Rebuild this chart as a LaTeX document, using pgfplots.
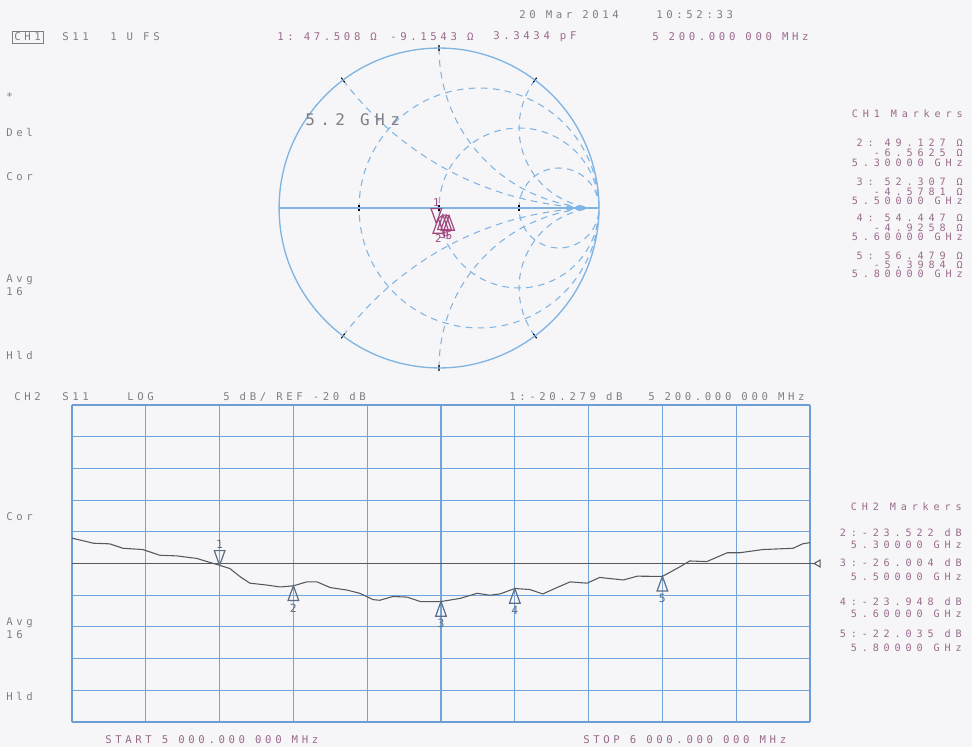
\documentclass[border=0pt]{standalone}
\usepackage{fontspec}
\setmonofont[LetterSpace=34]{DejaVu Sans Mono}
\usepackage{pgfplots}
\pgfplotsset{compat=1.18}
\usepgfplotslibrary{smithchart}

\definecolor{gridblue}{HTML}{72A6DA}
\definecolor{boxblue}{HTML}{6A9ED4}
\definecolor{smithblue}{HTML}{80B4E2}
\definecolor{tracegray}{HTML}{55585E}
\definecolor{refgray}{HTML}{5A5A5A}
\definecolor{mkgray}{HTML}{5E6E86}
\definecolor{smithmk}{HTML}{A0457E}
\definecolor{txtgray}{HTML}{7E7E86}
\definecolor{txtpink}{HTML}{9A6A8C}
\definecolor{paper}{HTML}{F6F6F8}

% marker triangles with the tip on the data point
\pgfdeclareplotmark{mkup}{%
  \pgfpathmoveto{\pgfqpoint{0pt}{0pt}}%
  \pgfpathlineto{\pgfqpoint{-4pt}{-11pt}}%
  \pgfpathlineto{\pgfqpoint{4pt}{-11pt}}%
  \pgfpathclose\pgfusepathqstroke}
\pgfdeclareplotmark{mkdn}{%
  \pgfpathmoveto{\pgfqpoint{0pt}{0pt}}%
  \pgfpathlineto{\pgfqpoint{-4pt}{11pt}}%
  \pgfpathlineto{\pgfqpoint{4pt}{11pt}}%
  \pgfpathclose\pgfusepathqstroke}

\pgfplotstableread{
f dB
5.000 -16.0
5.029 -16.8
5.051 -16.9
5.069 -17.6
5.096 -17.8
5.119 -18.7
5.142 -18.8
5.169 -19.2
5.183 -19.7
5.200 -20.279
5.214 -20.8
5.228 -22.1
5.241 -23.1
5.264 -23.4
5.282 -23.7
5.300 -23.522
5.318 -22.9
5.332 -22.9
5.350 -23.8
5.373 -24.2
5.390 -24.7
5.408 -25.7
5.417 -25.8
5.435 -25.2
5.454 -25.3
5.472 -26.0
5.500 -26.004
5.526 -25.5
5.549 -24.7
5.566 -25.0
5.580 -24.8
5.600 -23.948
5.620 -24.1
5.638 -24.8
5.657 -23.8
5.675 -22.9
5.698 -23.1
5.715 -22.2
5.747 -22.6
5.766 -22.0
5.800 -22.035
5.810 -21.4
5.824 -20.5
5.837 -19.6
5.860 -19.7
5.888 -18.3
5.905 -18.3
5.936 -17.8
5.977 -17.6
5.990 -16.9
6.000 -16.7
}\chtwo

\tikzset{
  t/.style={font=\ttfamily\fontsize{8}{9}\selectfont, inner sep=0pt, anchor=west, text=txtgray},
  tp/.style={t, text=txtpink},
  r/.style={font=\ttfamily\fontsize{7.6}{8}\selectfont\addfontfeature{LetterSpace=48},
    inner sep=0pt, text=txtpink, anchor=east},
}

\begin{document}
\begin{tikzpicture}[x=0.75pt,y=0.75pt]
\useasboundingbox (0,0) rectangle (972,747);
\fill[paper] (0,0) rectangle (972,747);

% ---------- CH1: Smith chart ----------
\begin{smithchart}[
  at={(329.25pt,404.25pt)}, anchor=center,
  scale only axis, width=240pt,
  xtick={0.3333,1,3}, ytick={-2,-1,-0.5,0.5,1,2},
  xticklabels={}, yticklabels={},
  grid style={smithblue, dash pattern=on 5pt off 4pt, line width=0.8pt},
  major grid style={smithblue, dash pattern=on 5pt off 4pt, line width=0.8pt},
  axis line style={smithblue, line width=1pt},
  tick style={smithblue, solid, line width=0.8pt},
  clip=false,
]
\addplot[smithblue, line width=0.9pt, is smithchart cs] coordinates {(-1,0) (1,0)};
\addplot[smithmk, line width=0.8pt] coordinates {
  (0.95016,-0.18309) (0.98254,-0.13125) (1.04614,-0.09156) (1.08894,-0.09852) (1.12958,-0.10797)};
\addplot[smithmk, only marks, mark=mkdn, mark options={line width=0.9pt},
  point meta=explicit symbolic, nodes near coords,
  every node near coord/.append style={font=\ttfamily\fontsize{8}{9}\selectfont,
    text=smithmk, anchor=south, yshift=11pt, inner sep=1pt}]
  coordinates {(0.95016,-0.18309) [1]};
\addplot[smithmk, only marks, mark=mkup, mark options={line width=0.9pt},
  point meta=explicit symbolic, nodes near coords,
  every node near coord/.append style={font=\ttfamily\fontsize{8}{9}\selectfont,
    text=smithmk, anchor=north, yshift=-11pt, inner sep=0.5pt}]
  coordinates {(0.98254,-0.13125) [2] (1.04614,-0.09156) [3] (1.08894,-0.09852) [4] (1.12958,-0.10797) [5]};
\end{smithchart}

% ---------- CH2: log magnitude ----------
\begin{axis}[
  at={(54pt,18.75pt)}, anchor=south west,
  scale only axis, width=553.5pt, height=237.75pt,
  xmin=5, xmax=6, ymin=-45, ymax=5,
  axis lines=box,
  xtick={5.1,5.2,5.3,5.4,5.5,5.6,5.7,5.8,5.9},
  ytick={-40,-35,-30,-25,-20,-15,-10,-5,0},
  xticklabels={}, yticklabels={},
  extra x ticks={5,6}, extra y ticks={-45,5},
  extra x tick labels={,}, extra y tick labels={,},
  extra tick style={major grid style={boxblue, line width=1.1pt}},
  tick style={draw=none},
  xmajorgrids=true, ymajorgrids=true,
  major grid style={gridblue, line width=0.8pt},
  axis line style={draw=none},
  x axis line style={draw=none}, y axis line style={draw=none},
  clip=false,
]
\addplot[refgray, line width=1.1pt] coordinates {(5,-20) (6.005,-20)};
\addplot[refgray, only marks, mark=triangle, mark size=3pt,
  mark options={rotate=90, line width=0.8pt}] coordinates {(6.011,-20)};
\addplot[tracegray, line width=0.8pt] table[x=f, y=dB] {\chtwo};
\addplot[mkgray, only marks, mark=mkdn, mark options={line width=0.9pt},
  point meta=explicit symbolic, nodes near coords,
  every node near coord/.append style={font=\ttfamily\fontsize{8.5}{9}\selectfont,
    text=mkgray, anchor=south, yshift=11pt, inner sep=1pt}]
  coordinates {(5.2,-20.279) [1]};
\addplot[mkgray, only marks, mark=mkup, mark options={line width=0.9pt},
  point meta=explicit symbolic, nodes near coords,
  every node near coord/.append style={font=\ttfamily\fontsize{8.5}{9}\selectfont,
    text=mkgray, anchor=north, yshift=-12pt, inner sep=1pt}]
  coordinates {(5.3,-23.522) [2] (5.5,-26.004) [3] (5.6,-23.948) [4] (5.8,-22.035) [5]};
\end{axis}

\node[t, font=\ttfamily\fontsize{12}{13}\selectfont] at (305,627) {5.2 GHz};

% ---------- header ----------
\node[t] at (519,732) {20 Mar 2014};
\node[t] at (656,732) {10:52:33};
\node[t, draw=txtgray, inner sep=1.5pt] at (12,710) {CH1};
\node[t] at (62,710) {S11};
\node[t] at (110,710) {1 U FS};
\node[tp] at (277,710) {1: 47.508 Ω};
\node[tp] at (390,710) {-9.1543 Ω};
\node[tp] at (493,710) {3.3434 pF};
\node[tp] at (652,710) {5 200.000 000 MHz};

\node[t] at (6,650) {*};
\node[t] at (6,615) {Del};
\node[t] at (6,570) {Cor};
\node[t] at (6,467) {Avg};
\node[t] at (6,455) {16};
\node[t] at (6,392) {Hld};

\node[r] at (963,633) {CH1 Markers};
\node[r] at (963,604) {2: 49.127 Ω};
\node[r] at (963,594) {-6.5625 Ω};
\node[r] at (963,584) {5.30000 GHz};
\node[r] at (963,565) {3: 52.307 Ω};
\node[r] at (963,555) {-4.5781 Ω};
\node[r] at (963,546) {5.50000 GHz};
\node[r] at (963,529) {4: 54.447 Ω};
\node[r] at (963,519) {-4.9258 Ω};
\node[r] at (963,510) {5.60000 GHz};
\node[r] at (963,491) {5: 56.479 Ω};
\node[r] at (963,482) {-5.3984 Ω};
\node[r] at (963,473) {5.80000 GHz};

% ---------- CH2 text ----------
\node[t] at (14,350) {CH2};
\node[t] at (62,350) {S11};
\node[t] at (127,350) {LOG};
\node[t] at (223,350) {5 dB/ REF -20 dB};
\node[t] at (509,350) {1:-20.279 dB};
\node[t] at (648,350) {5 200.000 000 MHz};

\node[t] at (6,230) {Cor};
\node[t] at (6,124) {Avg};
\node[t] at (6,112) {16};
\node[t] at (6,51) {Hld};

\node[r] at (962,240) {CH2 Markers};
\node[r] at (962,214) {2:-23.522 dB};
\node[r] at (962,202) {5.30000 GHz};
\node[r] at (962,184) {3:-26.004 dB};
\node[r] at (962,170) {5.50000 GHz};
\node[r] at (962,145) {4:-23.948 dB};
\node[r] at (962,133) {5.60000 GHz};
\node[r] at (962,113) {5:-22.035 dB};
\node[r] at (962,99) {5.80000 GHz};

\node[tp] at (105,7) {START 5 000.000 000 MHz};
\node[tp] at (583,7) {STOP 6 000.000 000 MHz};
\end{tikzpicture}
\end{document}
